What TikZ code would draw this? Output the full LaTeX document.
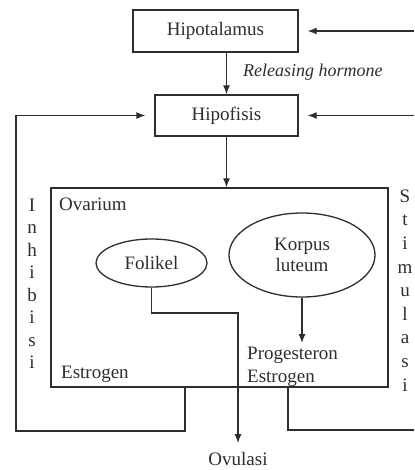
\documentclass[tikz,border=0pt]{standalone}
\usepackage{fontspec}
\setmainfont{Liberation Serif}
\usetikzlibrary{arrows.meta,shapes.geometric}
\definecolor{ink}{HTML}{2E2E2E}
\begin{document}
\begin{tikzpicture}[x=1pt,y=-1pt,
  font=\fontsize{19}{23}\selectfont,
  every node/.style={text=ink},
  box/.style={draw=ink, line width=1.4pt, inner sep=0pt},
  oval/.style={ellipse, draw=ink, line width=1.3pt, inner sep=0pt, align=center},
  lbl/.style={inner sep=0pt},
  wire/.style={draw=ink, line width=1.2pt},
  arr/.style={wire, -{Latex[length=9pt,width=7pt]}}]
\fill[white] (0,0) rectangle (414,470);
\useasboundingbox (0,0) rectangle (414,470);

% main boxes
\node[box, minimum width=165pt, minimum height=42pt] (hipo) at (215.5,31) {Hipotalamus};
\node[box, minimum width=143pt, minimum height=41pt] (hipof) at (226.5,115.5) {Hipofisis};
\node[box, minimum width=337pt, minimum height=199pt] (ovarium) at (219.5,287.5) {};

% contents of the ovary
\node[lbl, anchor=base west] (ovlbl) at (59,210) {Ovarium};
\node[oval, minimum width=111pt, minimum height=48pt] (fol) at (151.5,263) {Folikel};
\node[oval, minimum width=146pt, minimum height=84pt, font=\fontsize{19}{21}\selectfont] (korpus) at (302,255) {Korpus\\luteum};
\node[lbl, anchor=base west] (estL) at (61,378) {Estrogen};
\node[lbl, anchor=north west, align=left] (pe) at (247,347) {Progesteron\\Estrogen};

% outside labels
\node[lbl, anchor=base west, font=\fontsize{18}{23}\itshape] (rh) at (243,77) {Releasing hormone};
\node[lbl, anchor=base] (ovu) at (238,465) {Ovulasi};
\node[lbl, align=center, font=\fontsize{19}{22.5}\selectfont] (inh) at (32,284) {I\\n\\h\\i\\b\\i\\s\\i};
\node[lbl, align=center, font=\fontsize{19}{23.6}\selectfont] (stim) at (405,290.5) {S\\t\\i\\m\\u\\l\\a\\s\\i};

% feedback anchor points
\coordinate (inhStart) at (185,387);
\coordinate (inhCorner) at (16,431);
\coordinate (stimStart) at (288,387);
\coordinate (stimEnd) at (414,430);

% main cascade
\draw[arr] (hipo.south -| hipof.north) -- (hipof.north);
\draw[arr] (hipof.south) -- (hipof.south |- ovarium.north);
\draw[arr, shorten >=4pt] (korpus.south) -- (korpus.south |- pe.north);
\draw[arr, shorten >=8.5pt] (fol.south) -- (fol.south |- 0,313) -| (ovu.north);

% inhibition loop
\draw[arr, shorten >=9pt] (inhStart) |- (inhCorner) |- (hipof.west);

% stimulation loop
\draw[wire] (stimStart) |- (stimEnd);
\draw[arr, shorten >=9pt] (hipo.east -| stimEnd) -- (hipo.east);
\draw[arr, shorten >=9pt] (hipof.east -| stimEnd) -- (hipof.east);
\end{tikzpicture}
\end{document}
